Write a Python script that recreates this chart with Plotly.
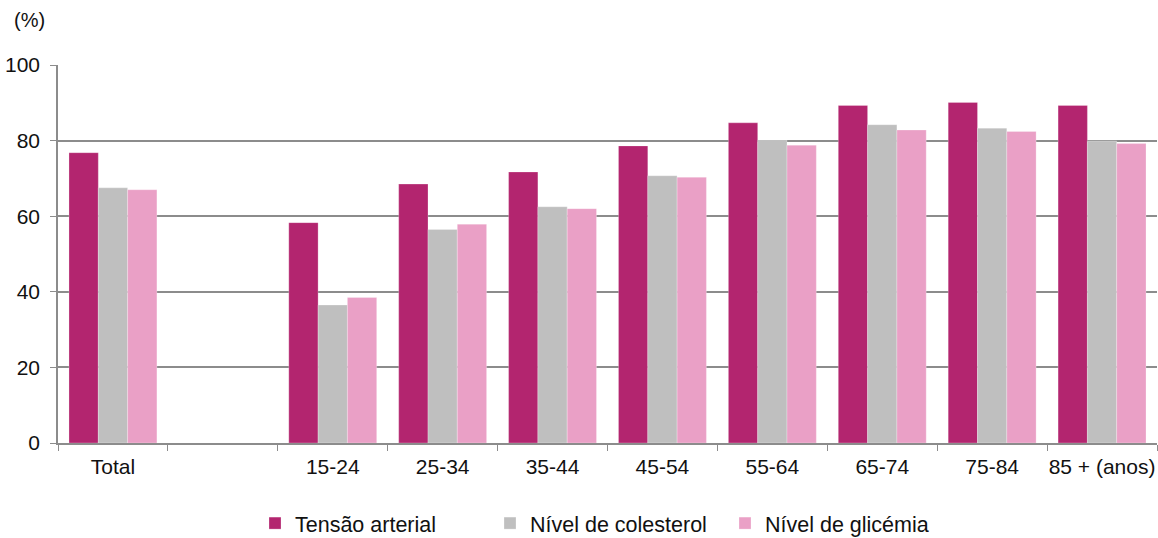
import plotly.graph_objects as go

categories = ["Total", " ", "15-24", "25-34", "35-44", "45-54", "55-64", "65-74", "75-84", "85 + (anos)"]
tensao = [76.8, None, 58.3, 68.5, 71.7, 78.6, 84.7, 89.3, 90.1, 89.3]
colesterol = [67.5, None, 36.5, 56.5, 62.5, 70.7, 80.1, 84.2, 83.3, 79.9]
glicemia = [67.0, None, 38.5, 57.9, 62.0, 70.3, 78.8, 82.8, 82.4, 79.2]

series_names = ["Tensão arterial", "Nível de colesterol", "Nível de glicémia"]
colors = ["#B3256F", "#BFBFBF", "#EAA0C6"]

FONT = "Liberation Sans, Arial, sans-serif"

fig = go.Figure()
for name, vals, col in zip(series_names, [tensao, colesterol, glicemia], colors):
    fig.add_trace(go.Bar(
        x=categories, y=vals, name=name,
        marker=dict(color=col, line=dict(color="rgba(255,255,255,0.5)", width=0.5)),
    ))

fig.update_layout(
    width=1158, height=538,
    margin=dict(l=58, r=1, t=65, b=95, autoexpand=False),
    paper_bgcolor="white", plot_bgcolor="white",
    barmode="group", bargap=0.2, bargroupgap=0,
    font=dict(family=FONT, size=21, color="#111111"),
    showlegend=True,
    legend=dict(
        orientation="h", x=0.5, xanchor="center", y=-0.212, yanchor="middle",
        font=dict(size=21.5), entrywidth=190, entrywidthmode="pixels",
        itemwidth=30, traceorder="normal",
    ),
    xaxis=dict(
        type="category", categoryorder="array", categoryarray=categories,
        tickson="boundaries", ticks="outside", ticklen=6, tickcolor="#8C8C8C",
        showline=True, linecolor="#8C8C8C", linewidth=1.5,
        showgrid=False, tickfont=dict(size=21), tickangle=0, automargin=False,
        ticklabelstandoff=4,
    ),
    yaxis=dict(
        range=[0, 100], dtick=20, tick0=0,
        ticks="outside", ticklen=6, tickcolor="#8C8C8C",
        showline=True, linecolor="#8C8C8C", linewidth=1.5,
        showgrid=True, gridcolor="#8C8C8C", gridwidth=1.5,
        zeroline=False, tickfont=dict(size=21), ticklabelstandoff=6,
        automargin=False,
    ),
    annotations=[dict(
        text="(%)", xref="paper", yref="paper", x=-0.026, y=1.119,
        xanchor="center", yanchor="middle", showarrow=False,
        font=dict(size=20),
    )],
)

fig.write_html(
    "out.html",
    config={"displayModeBar": False},
    post_script="document.body.style.margin='0';document.body.style.overflow='hidden';",
)
